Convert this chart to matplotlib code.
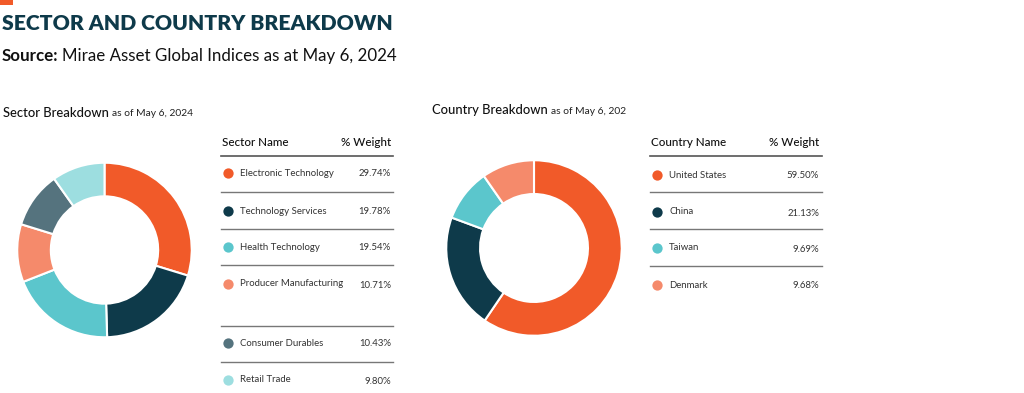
import matplotlib
matplotlib.use("Agg")
import matplotlib.pyplot as plt

# data
sector_names = ["Electronic Technology", "Technology Services", "Health Technology",
                "Producer Manufacturing", "Consumer Durables", "Retail Trade"]
sector_weights = [29.74, 19.78, 19.54, 10.71, 10.43, 9.80]
sector_colors = ["#F15A29", "#0E3A4A", "#5BC6CC", "#F58A6B", "#55737E", "#9DDEE0"]

country_names = ["United States", "China", "Taiwan", "Denmark"]
country_weights = [59.50, 21.13, 9.69, 9.68]
country_colors = ["#F15A29", "#0E3A4A", "#5BC6CC", "#F58A6B"]

W, H = 1024, 393
DARK = "#0E3A4A"
plt.rcParams['font.family'] = ['Lato', 'DejaVu Sans']

fig = plt.figure(figsize=(W / 100, H / 100), dpi=100)
bg = fig.add_axes([0, 0, 1, 1])
bg.set_xlim(0, W)
bg.set_ylim(H, 0)
bg.axis("off")

# orange tag + headings
bg.add_patch(plt.Rectangle((0, 0), 13, 5, color="#F15A29", lw=0))
bg.text(2, 23, "SECTOR AND COUNTRY BREAKDOWN", fontsize=15.2, fontweight="heavy",
        color=DARK, va="center", ha="left")
t = bg.text(2, 56, "Source:", fontsize=12.2, fontweight="bold", color="#111111",
            va="center", ha="left")
fig.canvas.draw()
bb = t.get_window_extent()
bg.text(bb.x1 + 4, 56, "Mirae Asset Global Indices as at May 6, 2024", fontsize=12.2,
        color="#111111", va="center", ha="left")


def heading(x, y, main, sub):
    a = bg.text(x, y, main, fontsize=9.4, fontweight="medium", color="#111111",
                va="center", ha="left")
    fig.canvas.draw()
    b = a.get_window_extent()
    bg.text(b.x1 + 3, y + 1, sub, fontsize=7.4, color="#222222", va="center", ha="left")


heading(3, 113, "Sector Breakdown", "as of May 6, 2024")
heading(432, 110, "Country Breakdown", "as of May 6, 202")


def donut(cx, cy, r, vals, cols):
    ax = fig.add_axes([(cx - r) / W, 1 - (cy + r) / H, 2 * r / W, 2 * r / H])
    ax.pie(vals, colors=cols, startangle=90, counterclock=False, radius=1,
           wedgeprops=dict(width=0.385, edgecolor="white", linewidth=1.5))
    ax.set_xlim(-1.02, 1.02)
    ax.set_ylim(-1.02, 1.02)
    ax.set_aspect("equal")
    ax.axis("off")


donut(104.5, 250, 89, sector_weights, sector_colors)
donut(534, 248, 89.5, country_weights, country_colors)


def table(x0, x1, head, names, vals, cols, rows_y, lines_y, dot_x, txt_x, val_x):
    bg.text(x0 + 1, 143, head, fontsize=8.4, fontweight="medium", color="#111111",
            va="center", ha="left")
    bg.text(val_x, 142, "% Weight", fontsize=8.4, fontweight="medium", color="#111111",
            va="center", ha="right")
    bg.plot([x0, x1], [156, 156], color="#555555", lw=1.2)
    for ly in lines_y:
        bg.plot([x0, x1], [ly, ly], color="#777777", lw=1.0)
    for n, v, c, y in zip(names, vals, cols, rows_y):
        bg.scatter([dot_x], [y], s=55, color=c, lw=0)
        bg.text(txt_x, y, n, fontsize=6.9, color="#333333", va="center", ha="left")
        bg.text(val_x, y + 1, f"{v:.2f}%", fontsize=6.9, color="#333333", va="center", ha="right")


table(221, 393, "Sector Name", sector_names, sector_weights, sector_colors,
      [173, 211, 247, 284, 343, 380], [192, 229, 265, 326, 362], 228, 240, 391)
table(650, 822, "Country Name", country_names, country_weights, country_colors,
      [175, 212, 248, 285], [192, 229, 266], 657, 669, 819)

fig.savefig("out.png", dpi=100)
